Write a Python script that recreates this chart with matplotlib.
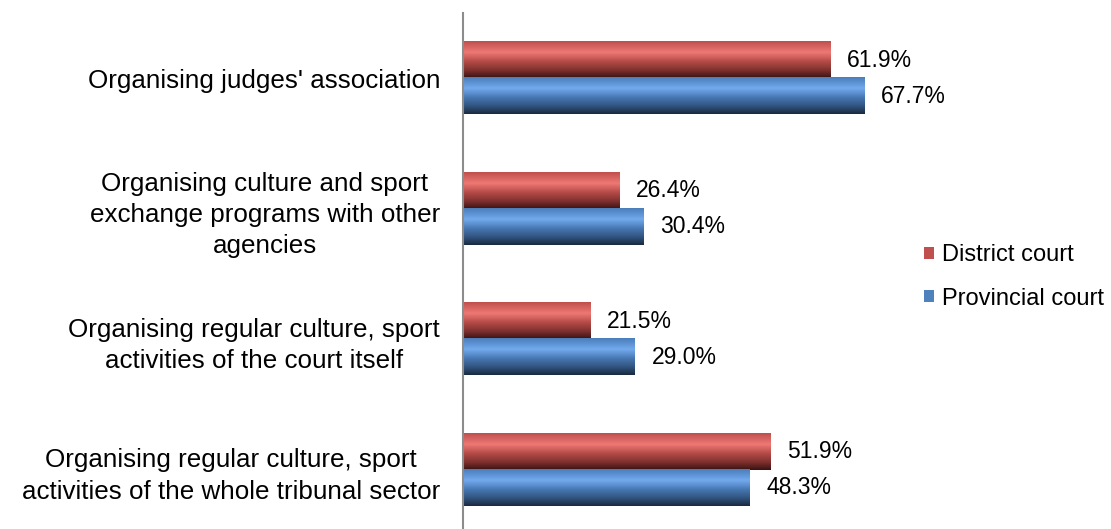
import numpy as np
import matplotlib
matplotlib.use("Agg")
import matplotlib.pyplot as plt
from matplotlib.colors import LinearSegmentedColormap
from matplotlib.patches import Patch

categories = [
    "Organising judges' association",
    "Organising culture and sport\nexchange programs with other\nagencies",
    "Organising regular culture, sport\nactivities of the court itself",
    "Organising regular culture, sport\nactivities of the whole tribunal sector",
]
district = [61.9, 26.4, 21.5, 51.9]
provincial = [67.7, 30.4, 29.0, 48.3]
series_names = ["District court", "Provincial court"]

plt.rcParams['font.family'] = ['Liberation Sans', 'DejaVu Sans']

W, H = 1111, 529
fig = plt.figure(figsize=(W / 100, H / 100), dpi=100)
ax_left = 463 / W
ax_right = (463 + 75 * 5.93) / W
ax_top = (H - 13) / H
ax_bot = (H - 535) / H
ax = fig.add_axes([ax_left, ax_bot, ax_right - ax_left, ax_top - ax_bot])

y = np.arange(len(categories))
h = 0.277

red_cmap = LinearSegmentedColormap.from_list(
    "r", [(0.0, "#c0504d"), (0.3, "#ee7874"), (0.55, "#b54b48"), (0.8, "#7d2f2d"), (1.0, "#3a1312")])
blue_cmap = LinearSegmentedColormap.from_list(
    "b", [(0.0, "#4a7ebb"), (0.3, "#72aaee"), (0.55, "#4778b3"), (0.8, "#30527c"), (1.0, "#1b2a40")])
grad = np.linspace(0, 1, 64).reshape(-1, 1)

bars_d = ax.barh(y - h / 2, district, height=h, color="none", edgecolor="none")
bars_p = ax.barh(y + h / 2, provincial, height=h, color="none", edgecolor="none")

for bars, cmap in ((bars_d, red_cmap), (bars_p, blue_cmap)):
    for b in bars:
        x0 = b.get_x()
        x1 = x0 + b.get_width()
        yb = b.get_y()
        yt = yb + b.get_height()
        ax.imshow(grad, cmap=cmap, aspect="auto", origin="upper",
                  extent=(x0, x1, yt, yb), zorder=2, interpolation="bilinear")

for bars, vals in ((bars_d, district), (bars_p, provincial)):
    ax.bar_label(bars, labels=[f"{v:.1f}%" for v in vals], padding=12, fontsize=16.5, color="#000000")

ax.set_xlim(0, 75)
ax.set_ylim(len(categories) - 0.5, -0.5)
ax.set_yticks(y)
ax.set_yticklabels(categories, fontsize=18.7, multialignment="center", linespacing=1.39)
ax.tick_params(axis="y", length=0, pad=16.5)
ax.set_xticks([])
for s in ("top", "right", "bottom"):
    ax.spines[s].set_visible(False)
ax.spines["left"].set_color("#8c8c8c")
ax.spines["left"].set_linewidth(1.5)

handles = [Patch(facecolor="#c0504d"), Patch(facecolor="#4f81bd")]
fig.legend(handles, series_names, loc="center left", bbox_to_anchor=(924 / W, 1 - 277 / H),
           frameon=False, fontsize=17, handlelength=0.42, handleheight=0.42,
           handletextpad=0.35, labelspacing=0.9, borderpad=0, borderaxespad=0)

fig.savefig("out.png", dpi=100)
